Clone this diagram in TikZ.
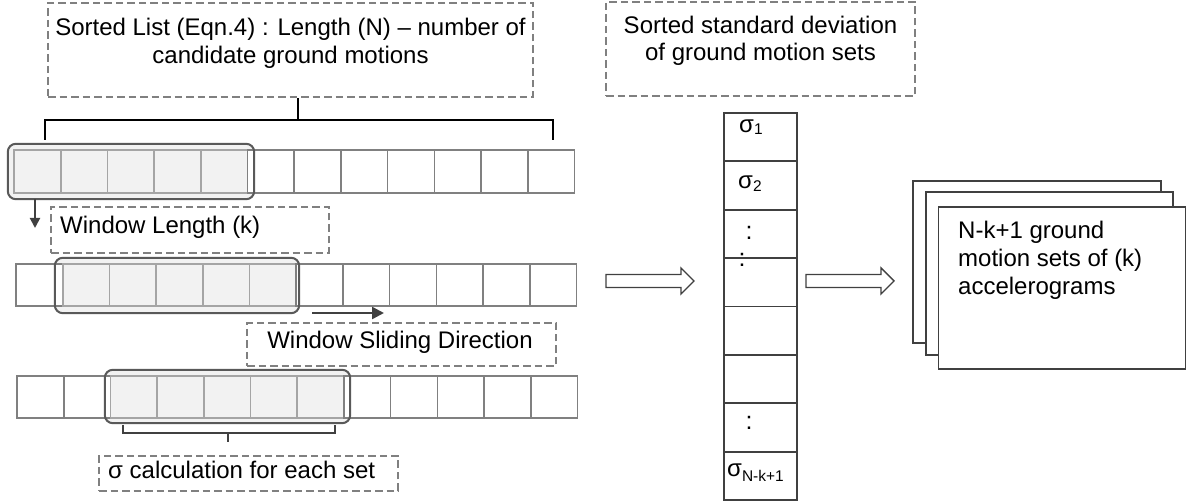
\documentclass[tikz,border=0pt]{standalone}
\usepackage{fontspec}
\setmainfont{Liberation Sans}
\usetikzlibrary{arrows.meta}
\definecolor{dashgray}{RGB}{128,128,128}
\definecolor{cellgray}{RGB}{128,128,128}
\definecolor{wcellgray}{RGB}{165,165,165}
\definecolor{winfill}{RGB}{242,242,242}
\definecolor{winline}{RGB}{89,89,89}
\definecolor{darkline}{RGB}{64,64,64}
\newcommand\subsz{\fontsize{15.5}{15.5}\selectfont}
\begin{document}
\begin{tikzpicture}[x=1pt,y=-1pt,
  txt/.style={font=\fontsize{24}{28}\selectfont, inner sep=0pt, text=black},
  dbox/.style={rectangle, draw=dashgray, line width=2.5pt, dash pattern=on 7.5pt off 4pt, inner sep=0pt},
  cellbox/.style={rectangle, draw=cellgray, line width=1.6pt, fill=white, minimum width=46.7pt, minimum height=42.5pt, inner sep=0pt},
  wincell/.style={rectangle, draw=wcellgray, line width=1.6pt, minimum width=46.7pt, minimum height=42.5pt, inner sep=0pt},
  winbg/.style={rectangle, fill=winfill, rounded corners=8pt, inner sep=0pt, minimum height=55pt},
  winedge/.style={draw=winline, line width=2pt, rounded corners=8pt},
  colcell/.style={rectangle, draw=darkline, line width=1.8pt, fill=white, minimum width=73pt, minimum height=48.4pt, inner sep=0pt},
  sheet/.style={rectangle, draw=darkline, line width=1.5pt, fill=white, inner sep=0pt},
  brk/.style={draw=black, line width=1.8pt},
  brklight/.style={draw=darkline, line width=1.5pt},
  darr/.style={draw=darkline, line width=2pt, -{Triangle[length=10pt,width=10pt]}},
  hollow/.style={draw=darkline, line width=1.4pt, fill=white, line join=miter},
  colon/.style={txt, anchor=center, font=\fontsize{25}{28}\selectfont}
]
\useasboundingbox (0,0) rectangle (1187,502);

% ---- caption boxes ----
\node[dbox, minimum width=485pt, minimum height=94pt] (listbox) at (290.5,50) {};
\node[txt, align=center] (listtxt) at (290.5,43.3)
  {Sorted List (Eqn.4) : Length (N) -- number of\\candidate ground motions};

\node[dbox, minimum width=309pt, minimum height=94pt] (sdbox) at (760.5,49) {};
\node[txt, align=center, font=\fontsize{24}{27}\selectfont] (sdtxt) at (760.5,40.8)
  {Sorted standard deviation\\of ground motion sets};

\node[dbox, minimum width=278pt, minimum height=46pt] (wlbox) at (190,230) {};
\node[txt, anchor=base west] (wltxt) at (60,233.4) {Window Length (k)};

\node[dbox, minimum width=309pt, minimum height=43pt] (wsbox) at (401.5,344.5) {};
\node[txt, anchor=base] (wstxt) at (400,348.4) {Window Sliding Direction};

\node[dbox, minimum width=299pt, minimum height=35pt] (sgbox) at (248.5,473.5) {};
\node[txt, anchor=base west] (sgtxt) at (108,478.4) {σ calculation for each set};

% ---- sliding windows: backgrounds ----
\node[winbg, minimum width=246pt] (w1) at (131,171.5) {};
\node[winbg, minimum width=244pt] (w2) at (177,285.5) {};
\node[winbg, minimum width=245pt, minimum height=53pt] (w3) at (227.5,396.5) {};

% ---- three rows of 12 cells ----
\foreach \i in {1,...,12}{
  \pgfmathsetmacro\cx{14+46.7*(\i-0.5)}
  \ifnum\i<6
    \node[wincell] (ra\i) at (\cx,171.5) {};
  \else
    \node[cellbox] (ra\i) at (\cx,171.5) {};
  \fi
}
\foreach \i in {1,...,12}{
  \pgfmathsetmacro\cx{16+46.7*(\i-0.5)}
  \ifnum\i>1 \ifnum\i<7
    \node[wincell] (rb\i) at (\cx,285) {};
  \else
    \node[cellbox] (rb\i) at (\cx,285) {};
  \fi \else
    \node[cellbox] (rb\i) at (\cx,285) {};
  \fi
}
\foreach \i in {1,...,12}{
  \pgfmathsetmacro\cx{17+46.7*(\i-0.5)}
  \ifnum\i>2 \ifnum\i<8
    \node[wincell] (rc\i) at (\cx,397) {};
  \else
    \node[cellbox] (rc\i) at (\cx,397) {};
  \fi \else
    \node[cellbox] (rc\i) at (\cx,397) {};
  \fi
}

% ---- sliding windows: outlines ----
\draw[winedge] (w1.north west) rectangle (w1.south east);
\draw[winedge] (w2.north west) rectangle (w2.south east);
\draw[winedge] (w3.north west) rectangle (w3.south east);

% ---- bracket spanning the whole list ----
\coordinate (brTop) at (298,120);
\draw[brk] (45,140) -- (45,120) -- (553,120) -- (553,140);
\draw[brk] (listbox.south -| brTop) -- (brTop);

% ---- bracket under the third window ----
\coordinate (brBot) at (228,433);
\coordinate (brEnd) at (228,442);
\draw[brklight] (123,425) -- (123,433) -- (335,433) -- (335,425);
\draw[brklight] (brBot) -- (brEnd);

% ---- window length and sliding arrows ----
\coordinate (dnEnd) at (35,228);
\draw[darr] (w1.south -| dnEnd) -- (dnEnd);
\coordinate (slA) at (312,313);
\coordinate (slB) at (384,313);
\draw[darr, line width=2.5pt, -{Triangle[length=12pt,width=12pt]}] (slA) -- (slB);

% ---- column of sorted sigmas ----
\foreach \j in {1,...,8}{
  \node[colcell] (s\j) at (760.5,{113+48.375*(\j-0.5)}) {};
}
\node[txt, anchor=base west] (sig1) at (739,133) {σ\raisebox{-2pt}{\subsz 1}};
\node[txt, anchor=base west] (sig2) at (738,188.5) {σ\raisebox{-3.5pt}{\subsz 2}};
\node[colon] (dotsA) at (749,233) {:};
\node[colon] (dotsB) at (742,260) {:};
\node[colon] (dotsC) at (749,422.5) {:};
\node[txt, anchor=base west] (sigN) at (727,477) {σ\raisebox{-5pt}{\subsz N-k+1}};

% ---- hollow block arrows ----
\coordinate (ha1) at (606,281);
\coordinate (ha2) at (806,281);
\draw[hollow] (ha1) ++(0,-6.5) -- ++(75,0) -- ++(0,-6.5) -- ++(13,13) -- ++(-13,13) -- ++(0,-6.5) -- ++(-75,0) -- cycle;
\draw[hollow] (ha2) ++(0,-6.5) -- ++(75,0) -- ++(0,-6.5) -- ++(13,13) -- ++(-13,13) -- ++(0,-6.5) -- ++(-75,0) -- cycle;

% ---- stack of output sets ----
\node[sheet, minimum width=248pt, minimum height=162pt] (sheet1) at (1037,262) {};
\node[sheet, minimum width=247pt, minimum height=163pt] (sheet2) at (1049.5,273.5) {};
\node[sheet, minimum width=247pt, minimum height=162pt] (sheet3) at (1062,288) {};
\node[txt, anchor=west, align=left] (sheettxt) at (958,260.3)
  {N-k+1 ground\\motion sets of (k)\\accelerograms};
\end{tikzpicture}
\end{document}
